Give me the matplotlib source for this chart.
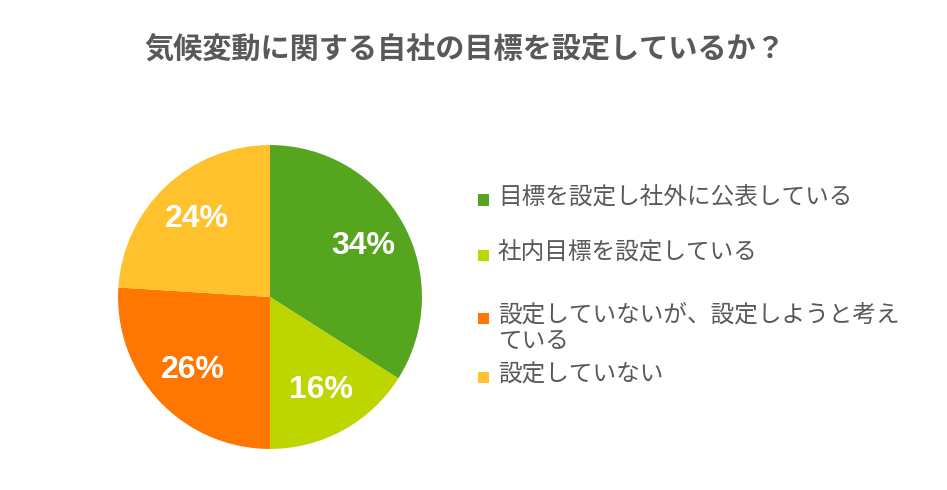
"""Pie chart: 気候変動に関する自社の目標を設定しているか？"""

import matplotlib
matplotlib.use("Agg")
import matplotlib.pyplot as plt
from matplotlib.patches import Rectangle

plt.rcParams["font.family"] = ["Noto Sans CJK JP", "DejaVu Sans"]

# ── Data ─────────────────────────────────────────────────────────────
categories = [
    "目標を設定し社外に公表している",
    "社内目標を設定している",
    "設定していないが、設定しようと考え\nている",
    "設定していない",
]
shares = [34, 16, 26, 24]
colors = ["#56a51f", "#bdd600", "#ff7700", "#ffc22d"]

title = "気候変動に関する自社の目標を設定しているか？"
TEXT_GREY = "#595959"

W, H = 947, 490
fig = plt.figure(figsize=(W / 100, H / 100), dpi=100)
fig.patch.set_facecolor("white")

# pie centred at (270, 297) px, radius 155 px
cx, cy, r = 270, 297, 155
ax = fig.add_axes([(cx - r) / W, (H - cy - r) / H, 2 * r / W, 2 * r / H])
wedges, _, autotexts = ax.pie(
    shares,
    colors=colors,
    startangle=90,
    counterclock=False,
    radius=1.0,
    autopct="%d%%",
    pctdistance=0.70,
    wedgeprops=dict(linewidth=0),
)
for t in autotexts:
    t.set_color("white")
    t.set_fontsize(23)
    t.set_fontweight("bold")
    t.set_fontfamily(["Liberation Sans", "DejaVu Sans"])
ax.set_xlim(-1.02, 1.02)
ax.set_ylim(-1.02, 1.02)
ax.set_axis_off()

fig.text(465 / W, 1 - 50 / H, title, ha="center", va="center",
         fontsize=21, fontweight="bold", color=TEXT_GREY)

# ── Legend (manual, first line aligned with marker) ──────────────────
row_y = [200, 255, 318, 378]
for label, color, y in zip(categories, colors, row_y):
    fig.patches.append(Rectangle((478 / W, 1 - (y + 5.5) / H), 11 / W, 11 / H,
                                 transform=fig.transFigure, facecolor=color,
                                 edgecolor="none"))
    fig.text(498 / W, 1 - (y - 14) / H, label, ha="left", va="top",
             fontsize=17, color=TEXT_GREY, linespacing=1.15)

fig.savefig("out.png", dpi=100, facecolor="white")
